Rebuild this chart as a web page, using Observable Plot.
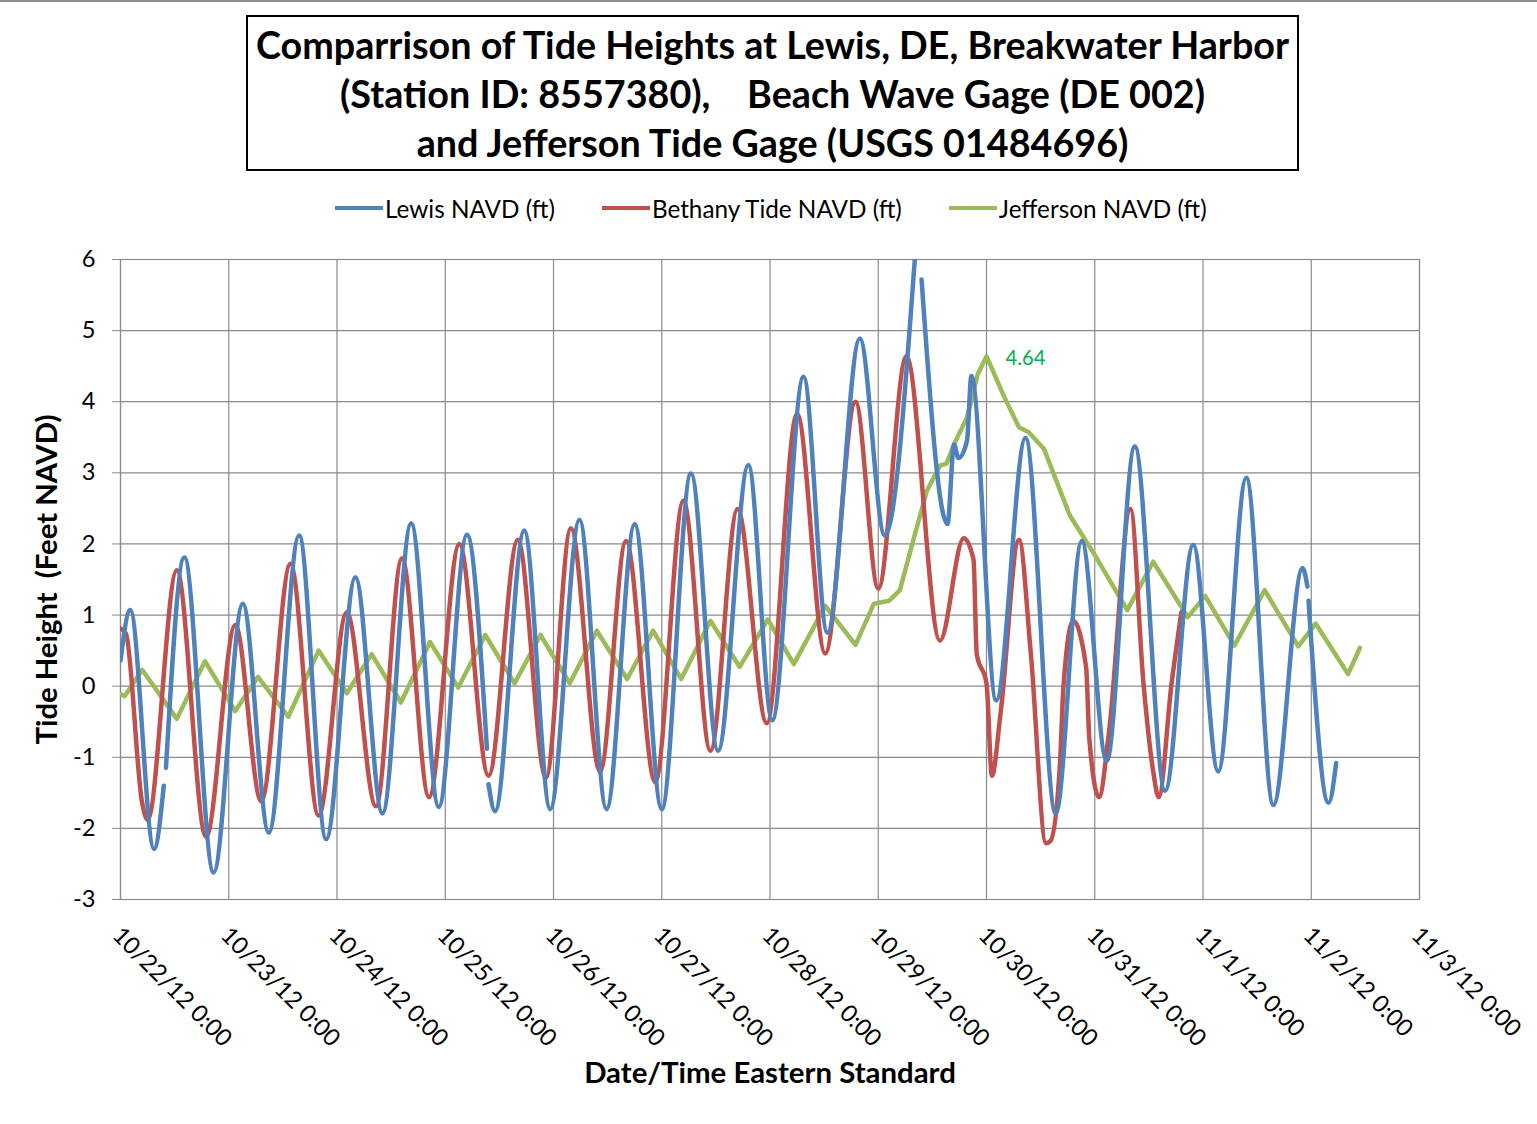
<!DOCTYPE html>
<html>
<head>
<meta charset="utf-8">
<script src="https://cdn.jsdelivr.net/npm/d3@7"></script>
<script src="https://cdn.jsdelivr.net/npm/@observablehq/plot@0.6"></script>
<style>
  html, body { margin: 0; padding: 0; background: #fff; }
  #wrap { position: relative; width: 1537px; height: 1124px; overflow: hidden; font-family: Lato, "Open Sans", sans-serif; }
  #topline { position: absolute; left: 0; top: 0; width: 1537px; height: 2px; background: #8c8c8c; }
  #titlebox { position: absolute; left: 246px; top: 15px; width: 1049px; height: 152px; border: 2px solid #000;
              display: flex; flex-direction: column; justify-content: center; align-items: center; }
  #titlebox div { font-weight: bold; line-height: 49px; white-space: nowrap; color: #000; }
  #legend { position: absolute; left: 335px; top: 190px; height: 36px; display: flex; align-items: center; gap: 47px; }
  .item { display: flex; align-items: center; white-space: nowrap; color: #000; }
  .sw { width: 48px; height: 4px; margin-right: 2px; }
  #chart { position: absolute; left: 0; top: 230px; }
</style>
</head>
<body>
<div id="wrap">
  <div id="topline"></div>
  <div id="titlebox"></div>
  <div id="legend"></div>
  <div id="chart"></div>
</div>
<script>
// ---------- data (time in days after 10/22/12 0:00, value in feet NAVD) ----------
const titleLines = [
  "Comparrison of Tide Heights at Lewis, DE, Breakwater Harbor",
  "(Station ID: 8557380),\u00a0\u00a0\u00a0\u00a0Beach Wave Gage (DE 002)",
  "and Jefferson Tide Gage (USGS 01484696)"
];
const seriesNames = ["Lewis NAVD (ft)", "Bethany Tide NAVD (ft)", "Jefferson NAVD (ft)"];
const seriesColors = ["#4F81BD", "#C0504D", "#9BBB59"];
const xTickLabels = ["10/22/12 0:00","10/23/12 0:00","10/24/12 0:00","10/25/12 0:00","10/26/12 0:00","10/27/12 0:00",
  "10/28/12 0:00","10/29/12 0:00","10/30/12 0:00","10/31/12 0:00","11/1/12 0:00","11/2/12 0:00","11/3/12 0:00"];
const yTicks = [-3, -2, -1, 0, 1, 2, 3, 4, 5, 6];
const yTickLabels = ["-3", "-2", "-1", "0", "1", "2", "3", "4", "5", "6"];
const xTitle = "Date/Time Eastern Standard";
const yTitle = "Tide Height\u00a0\u00a0(Feet NAVD)";

const lewisT = [0.00,0.09,0.31,0.40,0.41,0.42,0.59,0.86,1.13,1.37,1.65,1.90,2.17,2.42,2.685,2.94,3.20,3.385,3.39,3.40,3.46,3.73,3.97,
  4.24,4.49,4.75,5.00,5.27,5.52,5.80,6.02,6.31,6.53,6.83,7.06,7.34,7.37,7.40,7.64,7.70,7.74,7.82,7.86,8.09,8.36,8.64,8.88,
  9.11,9.37,9.65,9.91,10.14,10.40,10.65,10.92,10.965,10.97,10.975,11.16,11.23];
const lewisV = [0.36,1.07,-2.29,-1.40,null,-1.15,1.81,-2.62,1.16,-2.06,2.12,-2.15,1.53,-1.79,2.29,-1.70,2.13,-0.88,null,-1.38,-1.76,2.19,-1.73,
  2.34,-1.73,2.28,-1.73,2.99,-0.91,3.11,-0.48,4.35,0.75,4.89,2.12,6.05,null,5.72,2.28,3.40,3.21,3.45,4.36,-0.20,3.49,-1.79,2.04,
  -1.05,3.37,-1.47,1.99,-1.20,2.93,-1.67,1.66,1.40,null,1.20,-1.64,-1.08];

const bethanyT = [0.00,0.05,0.20,0.25,0.52,0.79,1.06,1.30,1.57,1.83,2.09,2.36,2.60,2.85,3.13,3.40,3.67,3.93,4.16,4.43,4.67,4.94,
  5.20,5.45,5.70,5.97,6.25,6.51,6.79,7.00,7.26,7.57,7.79,7.88,7.91,8.00,8.05,8.13,8.30,8.41,8.55,8.59,8.68,8.71,8.80,8.92,8.95,
  9.04,9.13,9.33,9.45,9.54,9.59,9.71,9.80];
const bethanyV = [0.81,0.74,-1.64,-1.88,1.63,-2.12,0.86,-1.62,1.72,-1.82,1.04,-1.69,1.80,-1.56,2.00,-1.26,2.06,-1.29,2.22,-1.20,2.04,-1.35,
  2.61,-0.91,2.49,-0.52,3.83,0.46,4.00,1.37,4.64,0.64,2.08,1.78,0.45,0.04,-1.26,-0.38,2.06,0.45,-2.21,-2.18,-1.06,-0.02,0.92,0.27,-0.74,
  -1.56,-0.67,2.49,0.04,-1.20,-1.56,0.04,1.04];

const jeffersonT = [0.00,0.04,0.20,0.52,0.78,1.06,1.27,1.55,1.83,2.09,2.32,2.59,2.86,3.12,3.37,3.64,3.88,4.15,4.40,4.68,4.92,5.18,
  5.45,5.72,5.98,6.22,6.51,6.79,6.96,7.10,7.20,7.33,7.45,7.57,7.63,7.70,7.82,7.92,8.00,8.16,8.30,8.39,8.53,8.77,8.99,9.30,9.54,
  9.86,10.02,10.29,10.57,10.88,11.04,11.34,11.45];
const jeffersonV = [-0.11,-0.14,0.23,-0.46,0.35,-0.35,0.13,-0.43,0.50,-0.10,0.45,-0.23,0.62,-0.02,0.72,0.04,0.72,0.04,0.78,0.10,0.78,0.10,
  0.92,0.27,0.94,0.31,1.13,0.58,1.16,1.20,1.35,2.09,2.75,3.10,3.13,3.40,3.78,4.39,4.64,4.08,3.64,3.57,3.34,2.40,1.87,1.07,1.75,
  0.97,1.27,0.57,1.35,0.56,0.88,0.17,0.54];
const peakLabel = {t: 8.00, v: 4.64, text: "4.64"};

// ---------- font fitting ----------
const ctx = document.createElement("canvas").getContext("2d");
function fit(text, weight, target) {
  ctx.font = `${weight} 100px Lato`;
  return 100 * target / ctx.measureText(text).width;
}
const titleSize = fit(titleLines[0], "bold", 1036);
const tickSize = fit(xTickLabels[0], "normal", 157);
const legendSize = fit(seriesNames[0], "normal", 170);
const xTitleSize = fit(xTitle, "bold", 372);
const yTitleSize = fit(yTitle, "bold", 330);
const labelSize = fit(peakLabel.text, "normal", 40);

// ---------- title & legend ----------
const tb = document.getElementById("titlebox");
titleLines.forEach(s => { const d = document.createElement("div"); d.textContent = s; d.style.fontSize = titleSize + "px"; tb.appendChild(d); });
const lg = document.getElementById("legend");
seriesNames.forEach((s, i) => {
  const it = document.createElement("div"); it.className = "item"; it.style.fontSize = legendSize + "px";
  const sw = document.createElement("span"); sw.className = "sw"; sw.style.background = seriesColors[i];
  const tx = document.createElement("span"); tx.textContent = s;
  it.appendChild(sw); it.appendChild(tx); lg.appendChild(it);
});

// ---------- chart ----------
const mk = (T, V) => T.map((t, i) => ({t, v: V[i]}));
const lewis = mk(lewisT, lewisV), bethany = mk(bethanyT, bethanyV), jefferson = mk(jeffersonT, jeffersonV);
const xTicks = xTickLabels.map((_, i) => i);
const grid = "#8a8a8a";

const chart = Plot.plot({
  width: 1537,
  height: 894,
  marginLeft: 120,
  marginRight: 118,
  marginTop: 29,
  marginBottom: 225,
  style: {fontFamily: "Lato, 'Open Sans', sans-serif", background: "#fff", color: "#000"},
  x: {type: "linear", domain: [0, 12], axis: null},
  y: {domain: [-3, 6]},
  marks: [
    Plot.gridY(yTicks, {stroke: grid, strokeOpacity: 1, strokeWidth: 1.2}),
    Plot.gridX(xTicks, {stroke: grid, strokeOpacity: 1, strokeWidth: 1.2}),
    Plot.frame({stroke: grid, strokeWidth: 1.2}),
    Plot.axisY(yTicks, {tickSize: 8, tickPadding: 17, stroke: grid, fontSize: tickSize, fill: "#000", label: null,
      tickFormat: d => yTickLabels[yTicks.indexOf(d)]}),
    Plot.text(xTicks, {x: d => d, text: d => xTickLabels[d], frameAnchor: "bottom", rotate: 45, textAnchor: "start",
      lineAnchor: "middle", dx: -4, dy: 32, fontSize: tickSize, fill: "#000"}),
    Plot.line(jefferson, {x: "t", y: "v", stroke: seriesColors[2], strokeWidth: 4.5, curve: "linear", clip: true}),
    Plot.line(bethany, {x: "t", y: "v", stroke: seriesColors[1], strokeWidth: 4.5, curve: "monotone-x", clip: true}),
    Plot.line(lewis, {x: "t", y: "v", stroke: seriesColors[0], strokeWidth: 4.5, curve: "monotone-x", clip: true}),
    Plot.text([peakLabel], {x: "t", y: "v", text: "text", textAnchor: "start", dx: 19, dy: 2, fill: "#00B050", fontSize: labelSize}),
    Plot.text([xTitle], {text: d => d, frameAnchor: "bottom", textAnchor: "middle", dy: 183, fontWeight: "bold", fontSize: xTitleSize, fill: "#000"}),
    Plot.text([yTitle], {text: d => d, frameAnchor: "left", textAnchor: "middle", lineAnchor: "middle", rotate: -90, dx: -73,
      fontWeight: "bold", fontSize: yTitleSize, fill: "#000"})
  ]
});
document.getElementById("chart").appendChild(chart);
</script>
</body>
</html>
